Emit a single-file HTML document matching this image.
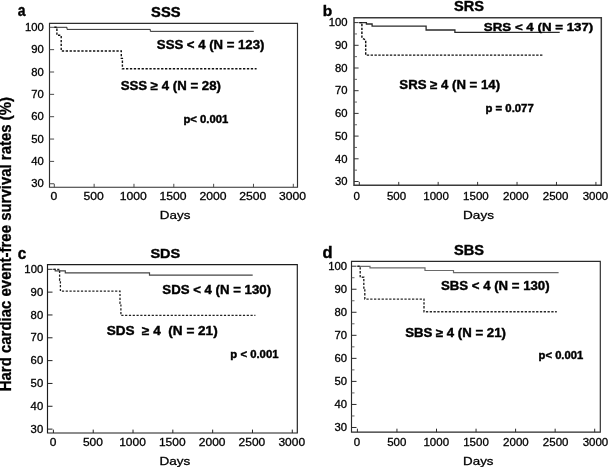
<!DOCTYPE html><html><head><meta charset="utf-8"><style>html,body{margin:0;padding:0;background:#fff;}svg{display:block;will-change:transform;}text{font-family:"Liberation Sans",sans-serif;fill:#000;}</style></head><body>
<svg width="610" height="467" viewBox="0 0 610 467">
<rect width="610" height="467" fill="#fff"/>
<path d="M49.5,23.3H297.5V187.2H49.5Z" fill="none" stroke="#2e2e2e" stroke-width="1.15"/>
<path d="M49.5,183.75h4.6" fill="none" stroke="#4a4a4a" stroke-width="1.0"/>
<path d="M49.5,161.40h4.6" fill="none" stroke="#4a4a4a" stroke-width="1.0"/>
<path d="M49.5,139.05h4.6" fill="none" stroke="#4a4a4a" stroke-width="1.0"/>
<path d="M49.5,116.70h4.6" fill="none" stroke="#4a4a4a" stroke-width="1.0"/>
<path d="M49.5,94.35h4.6" fill="none" stroke="#4a4a4a" stroke-width="1.0"/>
<path d="M49.5,72.00h4.6" fill="none" stroke="#4a4a4a" stroke-width="1.0"/>
<path d="M49.5,49.65h4.6" fill="none" stroke="#4a4a4a" stroke-width="1.0"/>
<path d="M49.5,27.30h4.6" fill="none" stroke="#4a4a4a" stroke-width="1.0"/>
<path d="M54.30,187.2v-3.4" fill="none" stroke="#4a4a4a" stroke-width="1.0"/>
<path d="M94.13,187.2v-3.4" fill="none" stroke="#4a4a4a" stroke-width="1.0"/>
<path d="M133.97,187.2v-3.4" fill="none" stroke="#4a4a4a" stroke-width="1.0"/>
<path d="M173.81,187.2v-3.4" fill="none" stroke="#4a4a4a" stroke-width="1.0"/>
<path d="M213.64,187.2v-3.4" fill="none" stroke="#4a4a4a" stroke-width="1.0"/>
<path d="M253.48,187.2v-3.4" fill="none" stroke="#4a4a4a" stroke-width="1.0"/>
<path d="M293.31,187.2v-3.4" fill="none" stroke="#4a4a4a" stroke-width="1.0"/>
<path d="M354.0,17.7H601.3V185.3H354.0Z" fill="none" stroke="#3a3a3a" stroke-width="1.5"/>
<path d="M354.0,181.50h4.6" fill="none" stroke="#333" stroke-width="1.0"/>
<path d="M354.0,158.80h4.6" fill="none" stroke="#333" stroke-width="1.0"/>
<path d="M354.0,136.10h4.6" fill="none" stroke="#333" stroke-width="1.0"/>
<path d="M354.0,113.40h4.6" fill="none" stroke="#333" stroke-width="1.0"/>
<path d="M354.0,90.70h4.6" fill="none" stroke="#333" stroke-width="1.0"/>
<path d="M354.0,68.00h4.6" fill="none" stroke="#333" stroke-width="1.0"/>
<path d="M354.0,45.30h4.6" fill="none" stroke="#333" stroke-width="1.0"/>
<path d="M354.0,22.60h4.6" fill="none" stroke="#333" stroke-width="1.0"/>
<path d="M354.0,170.15h3" fill="none" stroke="#555" stroke-width="0.9"/>
<path d="M354.0,147.45h3" fill="none" stroke="#555" stroke-width="0.9"/>
<path d="M354.0,124.75h3" fill="none" stroke="#555" stroke-width="0.9"/>
<path d="M354.0,102.05h3" fill="none" stroke="#555" stroke-width="0.9"/>
<path d="M354.0,79.35h3" fill="none" stroke="#555" stroke-width="0.9"/>
<path d="M354.0,56.65h3" fill="none" stroke="#555" stroke-width="0.9"/>
<path d="M354.0,33.95h3" fill="none" stroke="#555" stroke-width="0.9"/>
<path d="M359.30,185.3v-3.4" fill="none" stroke="#333" stroke-width="1.0"/>
<path d="M398.74,185.3v-3.4" fill="none" stroke="#333" stroke-width="1.0"/>
<path d="M438.17,185.3v-3.4" fill="none" stroke="#333" stroke-width="1.0"/>
<path d="M477.61,185.3v-3.4" fill="none" stroke="#333" stroke-width="1.0"/>
<path d="M517.04,185.3v-3.4" fill="none" stroke="#333" stroke-width="1.0"/>
<path d="M556.48,185.3v-3.4" fill="none" stroke="#333" stroke-width="1.0"/>
<path d="M595.91,185.3v-3.4" fill="none" stroke="#333" stroke-width="1.0"/>
<path d="M47.5,264.6H297.3V433.0H47.5Z" fill="none" stroke="#1c1c1c" stroke-width="1.15"/>
<path d="M47.5,429.11h5.0" fill="none" stroke="#222" stroke-width="1.0"/>
<path d="M47.5,406.28h5.0" fill="none" stroke="#222" stroke-width="1.0"/>
<path d="M47.5,383.45h5.0" fill="none" stroke="#222" stroke-width="1.0"/>
<path d="M47.5,360.62h5.0" fill="none" stroke="#222" stroke-width="1.0"/>
<path d="M47.5,337.79h5.0" fill="none" stroke="#222" stroke-width="1.0"/>
<path d="M47.5,314.96h5.0" fill="none" stroke="#222" stroke-width="1.0"/>
<path d="M47.5,292.13h5.0" fill="none" stroke="#222" stroke-width="1.0"/>
<path d="M47.5,269.30h5.0" fill="none" stroke="#222" stroke-width="1.0"/>
<path d="M53.40,433.0v-3.4" fill="none" stroke="#222" stroke-width="1.0"/>
<path d="M93.22,433.0v-3.4" fill="none" stroke="#222" stroke-width="1.0"/>
<path d="M133.03,433.0v-3.4" fill="none" stroke="#222" stroke-width="1.0"/>
<path d="M172.84,433.0v-3.4" fill="none" stroke="#222" stroke-width="1.0"/>
<path d="M212.66,433.0v-3.4" fill="none" stroke="#222" stroke-width="1.0"/>
<path d="M252.48,433.0v-3.4" fill="none" stroke="#222" stroke-width="1.0"/>
<path d="M292.29,433.0v-3.4" fill="none" stroke="#222" stroke-width="1.0"/>
<path d="M351.5,261.4H600.3V432.1H351.5Z" fill="none" stroke="#2a2a2a" stroke-width="1.15"/>
<path d="M351.5,427.48h5.0" fill="none" stroke="#2a2a2a" stroke-width="1.0"/>
<path d="M351.5,404.44h5.0" fill="none" stroke="#2a2a2a" stroke-width="1.0"/>
<path d="M351.5,381.40h5.0" fill="none" stroke="#2a2a2a" stroke-width="1.0"/>
<path d="M351.5,358.36h5.0" fill="none" stroke="#2a2a2a" stroke-width="1.0"/>
<path d="M351.5,335.32h5.0" fill="none" stroke="#2a2a2a" stroke-width="1.0"/>
<path d="M351.5,312.28h5.0" fill="none" stroke="#2a2a2a" stroke-width="1.0"/>
<path d="M351.5,289.24h5.0" fill="none" stroke="#2a2a2a" stroke-width="1.0"/>
<path d="M351.5,266.20h5.0" fill="none" stroke="#2a2a2a" stroke-width="1.0"/>
<path d="M351.5,415.96h3" fill="none" stroke="#555" stroke-width="0.9"/>
<path d="M351.5,392.92h3" fill="none" stroke="#555" stroke-width="0.9"/>
<path d="M351.5,369.88h3" fill="none" stroke="#555" stroke-width="0.9"/>
<path d="M351.5,346.84h3" fill="none" stroke="#555" stroke-width="0.9"/>
<path d="M351.5,323.80h3" fill="none" stroke="#555" stroke-width="0.9"/>
<path d="M351.5,300.76h3" fill="none" stroke="#555" stroke-width="0.9"/>
<path d="M351.5,277.72h3" fill="none" stroke="#555" stroke-width="0.9"/>
<path d="M357.40,432.1v-3.4" fill="none" stroke="#2a2a2a" stroke-width="1.0"/>
<path d="M396.95,432.1v-3.4" fill="none" stroke="#2a2a2a" stroke-width="1.0"/>
<path d="M436.50,432.1v-3.4" fill="none" stroke="#2a2a2a" stroke-width="1.0"/>
<path d="M476.05,432.1v-3.4" fill="none" stroke="#2a2a2a" stroke-width="1.0"/>
<path d="M515.60,432.1v-3.4" fill="none" stroke="#2a2a2a" stroke-width="1.0"/>
<path d="M555.15,432.1v-3.4" fill="none" stroke="#2a2a2a" stroke-width="1.0"/>
<path d="M594.70,432.1v-3.4" fill="none" stroke="#2a2a2a" stroke-width="1.0"/>
<path d="M54.3,27.3H67V29.4H150.3V31.35H253.8" fill="none" stroke="#2e2e2e" stroke-width="1.0"/>
<path d="M54.3,27.3H56.9V35.3H61.2V51H121.3V58.4H122.4V68.7H256.6" fill="none" stroke="#111" stroke-width="1.4" stroke-dasharray="2.3 1.6"/>
<path d="M359.3,22.6H366.4V24H372.1V26.1H426.1V30H454.9V32.3H559.7" fill="none" stroke="#2a2a2a" stroke-width="1.3"/>
<path d="M359.3,22.6H361.9V38.1L365.7,40V55.1H543.6" fill="none" stroke="#111" stroke-width="1.45" stroke-dasharray="2.4 1.45"/>
<path d="M53.4,269.3H55.2V270.8H65.3V272.9H149.5V275.1H252.7" fill="none" stroke="#454545" stroke-width="1.2"/>
<path d="M53.4,269.3H59.6V280.4H60.4V291.2H120V303.4H120.9V315.4H255.4" fill="none" stroke="#222" stroke-width="1.3" stroke-dasharray="2.2 1.6"/>
<path d="M357.4,266.3H370V267.9H425V270.5H453.5V272.7H558.6" fill="none" stroke="#6a6a6a" stroke-width="1.2"/>
<path d="M357.4,266.3H360.2V277.2H363.8V288H364.8V299.1H424V311.8H556.8" fill="none" stroke="#2a2a2a" stroke-width="1.4" stroke-dasharray="2.3 1.5"/>
<text transform="translate(31.22,187.45) scale(1.1200,1)" font-size="10.07" stroke="#000" stroke-width="0.28" xml:space="preserve">30</text>
<text transform="translate(31.22,165.10) scale(1.1200,1)" font-size="10.07" stroke="#000" stroke-width="0.28" xml:space="preserve">40</text>
<text transform="translate(31.22,142.75) scale(1.1200,1)" font-size="10.07" stroke="#000" stroke-width="0.28" xml:space="preserve">50</text>
<text transform="translate(31.22,120.40) scale(1.1200,1)" font-size="10.07" stroke="#000" stroke-width="0.28" xml:space="preserve">60</text>
<text transform="translate(31.22,98.05) scale(1.1200,1)" font-size="10.07" stroke="#000" stroke-width="0.28" xml:space="preserve">70</text>
<text transform="translate(31.22,75.70) scale(1.1200,1)" font-size="10.07" stroke="#000" stroke-width="0.28" xml:space="preserve">80</text>
<text transform="translate(31.22,53.35) scale(1.1200,1)" font-size="10.07" stroke="#000" stroke-width="0.28" xml:space="preserve">90</text>
<text transform="translate(24.96,31.00) scale(1.1200,1)" font-size="10.07" stroke="#000" stroke-width="0.28" xml:space="preserve">100</text>
<text transform="translate(50.60,200.03) scale(1.1200,1)" font-size="10.86" stroke="#000" stroke-width="0.28" xml:space="preserve">0</text>
<text transform="translate(83.60,200.03) scale(1.1200,1)" font-size="10.86" stroke="#000" stroke-width="0.28" xml:space="preserve">500</text>
<text transform="translate(119.73,200.03) scale(1.1200,1)" font-size="10.86" stroke="#000" stroke-width="0.28" xml:space="preserve">1000</text>
<text transform="translate(159.48,200.03) scale(1.1200,1)" font-size="10.86" stroke="#000" stroke-width="0.28" xml:space="preserve">1500</text>
<text transform="translate(199.38,200.03) scale(1.1200,1)" font-size="10.86" stroke="#000" stroke-width="0.28" xml:space="preserve">2000</text>
<text transform="translate(239.13,200.03) scale(1.1200,1)" font-size="10.86" stroke="#000" stroke-width="0.28" xml:space="preserve">2500</text>
<text transform="translate(278.94,200.03) scale(1.1200,1)" font-size="10.86" stroke="#000" stroke-width="0.28" xml:space="preserve">3000</text>
<text transform="translate(334.92,185.20) scale(1.1200,1)" font-size="10.07" stroke="#000" stroke-width="0.28" xml:space="preserve">30</text>
<text transform="translate(334.92,162.50) scale(1.1200,1)" font-size="10.07" stroke="#000" stroke-width="0.28" xml:space="preserve">40</text>
<text transform="translate(334.92,139.80) scale(1.1200,1)" font-size="10.07" stroke="#000" stroke-width="0.28" xml:space="preserve">50</text>
<text transform="translate(334.92,117.10) scale(1.1200,1)" font-size="10.07" stroke="#000" stroke-width="0.28" xml:space="preserve">60</text>
<text transform="translate(334.92,94.40) scale(1.1200,1)" font-size="10.07" stroke="#000" stroke-width="0.28" xml:space="preserve">70</text>
<text transform="translate(334.92,71.70) scale(1.1200,1)" font-size="10.07" stroke="#000" stroke-width="0.28" xml:space="preserve">80</text>
<text transform="translate(334.92,49.00) scale(1.1200,1)" font-size="10.07" stroke="#000" stroke-width="0.28" xml:space="preserve">90</text>
<text transform="translate(328.66,26.30) scale(1.1200,1)" font-size="10.07" stroke="#000" stroke-width="0.28" xml:space="preserve">100</text>
<text transform="translate(353.57,200.22) scale(1.1200,1)" font-size="10.29" stroke="#000" stroke-width="0.28" xml:space="preserve">0</text>
<text transform="translate(386.96,200.22) scale(1.1200,1)" font-size="10.29" stroke="#000" stroke-width="0.28" xml:space="preserve">500</text>
<text transform="translate(423.31,200.22) scale(1.1200,1)" font-size="10.29" stroke="#000" stroke-width="0.28" xml:space="preserve">1000</text>
<text transform="translate(463.09,200.22) scale(1.1200,1)" font-size="10.29" stroke="#000" stroke-width="0.28" xml:space="preserve">1500</text>
<text transform="translate(503.02,200.22) scale(1.1200,1)" font-size="10.29" stroke="#000" stroke-width="0.28" xml:space="preserve">2000</text>
<text transform="translate(542.80,200.22) scale(1.1200,1)" font-size="10.29" stroke="#000" stroke-width="0.28" xml:space="preserve">2500</text>
<text transform="translate(582.64,200.22) scale(1.1200,1)" font-size="10.29" stroke="#000" stroke-width="0.28" xml:space="preserve">3000</text>
<text transform="translate(30.62,432.81) scale(1.1200,1)" font-size="10.07" stroke="#000" stroke-width="0.28" xml:space="preserve">30</text>
<text transform="translate(30.62,409.98) scale(1.1200,1)" font-size="10.07" stroke="#000" stroke-width="0.28" xml:space="preserve">40</text>
<text transform="translate(30.62,387.15) scale(1.1200,1)" font-size="10.07" stroke="#000" stroke-width="0.28" xml:space="preserve">50</text>
<text transform="translate(30.62,364.32) scale(1.1200,1)" font-size="10.07" stroke="#000" stroke-width="0.28" xml:space="preserve">60</text>
<text transform="translate(30.62,341.49) scale(1.1200,1)" font-size="10.07" stroke="#000" stroke-width="0.28" xml:space="preserve">70</text>
<text transform="translate(30.62,318.66) scale(1.1200,1)" font-size="10.07" stroke="#000" stroke-width="0.28" xml:space="preserve">80</text>
<text transform="translate(30.62,295.83) scale(1.1200,1)" font-size="10.07" stroke="#000" stroke-width="0.28" xml:space="preserve">90</text>
<text transform="translate(24.36,273.00) scale(1.1200,1)" font-size="10.07" stroke="#000" stroke-width="0.28" xml:space="preserve">100</text>
<text transform="translate(49.84,446.23) scale(1.1200,1)" font-size="10.71" stroke="#000" stroke-width="0.28" xml:space="preserve">0</text>
<text transform="translate(82.95,446.23) scale(1.1200,1)" font-size="10.71" stroke="#000" stroke-width="0.28" xml:space="preserve">500</text>
<text transform="translate(119.15,446.23) scale(1.1200,1)" font-size="10.71" stroke="#000" stroke-width="0.28" xml:space="preserve">1000</text>
<text transform="translate(158.92,446.23) scale(1.1200,1)" font-size="10.71" stroke="#000" stroke-width="0.28" xml:space="preserve">1500</text>
<text transform="translate(198.84,446.23) scale(1.1200,1)" font-size="10.71" stroke="#000" stroke-width="0.28" xml:space="preserve">2000</text>
<text transform="translate(238.61,446.23) scale(1.1200,1)" font-size="10.71" stroke="#000" stroke-width="0.28" xml:space="preserve">2500</text>
<text transform="translate(278.44,446.23) scale(1.1200,1)" font-size="10.71" stroke="#000" stroke-width="0.28" xml:space="preserve">3000</text>
<text transform="translate(334.52,431.18) scale(1.1200,1)" font-size="10.07" stroke="#000" stroke-width="0.28" xml:space="preserve">30</text>
<text transform="translate(334.52,408.14) scale(1.1200,1)" font-size="10.07" stroke="#000" stroke-width="0.28" xml:space="preserve">40</text>
<text transform="translate(334.52,385.10) scale(1.1200,1)" font-size="10.07" stroke="#000" stroke-width="0.28" xml:space="preserve">50</text>
<text transform="translate(334.52,362.06) scale(1.1200,1)" font-size="10.07" stroke="#000" stroke-width="0.28" xml:space="preserve">60</text>
<text transform="translate(334.52,339.02) scale(1.1200,1)" font-size="10.07" stroke="#000" stroke-width="0.28" xml:space="preserve">70</text>
<text transform="translate(334.52,315.98) scale(1.1200,1)" font-size="10.07" stroke="#000" stroke-width="0.28" xml:space="preserve">80</text>
<text transform="translate(334.52,292.94) scale(1.1200,1)" font-size="10.07" stroke="#000" stroke-width="0.28" xml:space="preserve">90</text>
<text transform="translate(328.26,269.90) scale(1.1200,1)" font-size="10.07" stroke="#000" stroke-width="0.28" xml:space="preserve">100</text>
<text transform="translate(353.77,445.93) scale(1.1200,1)" font-size="10.29" stroke="#000" stroke-width="0.28" xml:space="preserve">0</text>
<text transform="translate(387.13,445.93) scale(1.1200,1)" font-size="10.29" stroke="#000" stroke-width="0.28" xml:space="preserve">500</text>
<text transform="translate(423.45,445.93) scale(1.1200,1)" font-size="10.29" stroke="#000" stroke-width="0.28" xml:space="preserve">1000</text>
<text transform="translate(463.20,445.93) scale(1.1200,1)" font-size="10.29" stroke="#000" stroke-width="0.28" xml:space="preserve">1500</text>
<text transform="translate(503.10,445.93) scale(1.1200,1)" font-size="10.29" stroke="#000" stroke-width="0.28" xml:space="preserve">2000</text>
<text transform="translate(542.85,445.93) scale(1.1200,1)" font-size="10.29" stroke="#000" stroke-width="0.28" xml:space="preserve">2500</text>
<text transform="translate(582.66,445.93) scale(1.1200,1)" font-size="10.29" stroke="#000" stroke-width="0.28" xml:space="preserve">3000</text>
<text transform="translate(17.83,15.80) scale(0.8545,1)" font-size="16.30" font-weight="bold" stroke="#000" stroke-width="0.4" xml:space="preserve">a</text>
<text transform="translate(322.65,15.70) scale(1.0043,1)" font-size="15.38" font-weight="bold" stroke="#000" stroke-width="0.4" xml:space="preserve">b</text>
<text transform="translate(17.64,258.60) scale(0.9636,1)" font-size="15.83" font-weight="bold" stroke="#000" stroke-width="0.4" xml:space="preserve">c</text>
<text transform="translate(322.49,258.40) scale(1.0407,1)" font-size="15.79" font-weight="bold" stroke="#000" stroke-width="0.4" xml:space="preserve">d</text>
<text transform="translate(151.11,16.80) scale(1.0158,1)" font-size="14.50" font-weight="bold" stroke="#000" stroke-width="0.4" xml:space="preserve">SSS</text>
<text transform="translate(454.01,11.40) scale(1.0392,1)" font-size="14.07" font-weight="bold" stroke="#000" stroke-width="0.4" xml:space="preserve">SRS</text>
<text transform="translate(150.42,258.20) scale(1.0608,1)" font-size="13.64" font-weight="bold" stroke="#000" stroke-width="0.4" xml:space="preserve">SDS</text>
<text transform="translate(454.01,254.60) scale(1.0392,1)" font-size="14.07" font-weight="bold" stroke="#000" stroke-width="0.4" xml:space="preserve">SBS</text>
<text transform="translate(156.86,48.70) scale(1.0290,1)" font-size="12.79" font-weight="bold" stroke="#000" stroke-width="0.4" xml:space="preserve">SSS &lt; 4 (N = 123)</text>
<text transform="translate(120.75,89.70) scale(1.0571,1)" font-size="12.50" font-weight="bold" stroke="#000" stroke-width="0.4" xml:space="preserve">SSS ≥ 4 (N = 28)</text>
<text transform="translate(183.42,123.00) scale(1.0762,1)" font-size="10.50" font-weight="bold" stroke="#000" stroke-width="0.4" xml:space="preserve">p&lt; 0.001</text>
<text transform="translate(483.85,31.10) scale(1.1296,1)" font-size="11.79" font-weight="bold" stroke="#000" stroke-width="0.4" xml:space="preserve">SRS &lt; 4 (N = 137)</text>
<text transform="translate(399.35,88.70) scale(1.0557,1)" font-size="12.50" font-weight="bold" stroke="#000" stroke-width="0.4" xml:space="preserve">SRS ≥ 4 (N = 14)</text>
<text transform="translate(485.51,112.00) scale(1.0948,1)" font-size="10.36" font-weight="bold" stroke="#000" stroke-width="0.4" xml:space="preserve">p = 0.077</text>
<text transform="translate(162.35,293.50) scale(1.0572,1)" font-size="12.50" font-weight="bold" stroke="#000" stroke-width="0.4" xml:space="preserve">SDS &lt; 4 (N = 130)</text>
<text transform="translate(106.64,334.60) scale(1.0854,1)" font-size="12.50" font-weight="bold" stroke="#000" stroke-width="0.4" xml:space="preserve">SDS  ≥ 4  (N = 21)</text>
<text transform="translate(230.36,357.70) scale(1.0794,1)" font-size="10.50" font-weight="bold" stroke="#000" stroke-width="0.4" xml:space="preserve">p &lt; 0.001</text>
<text transform="translate(441.05,289.90) scale(1.0562,1)" font-size="12.50" font-weight="bold" stroke="#000" stroke-width="0.4" xml:space="preserve">SBS &lt; 4 (N = 130)</text>
<text transform="translate(405.15,337.30) scale(1.1063,1)" font-size="11.93" font-weight="bold" stroke="#000" stroke-width="0.4" xml:space="preserve">SBS ≥ 4 (N = 21)</text>
<text transform="translate(538.62,359.00) scale(1.0688,1)" font-size="10.50" font-weight="bold" stroke="#000" stroke-width="0.4" xml:space="preserve">p&lt; 0.001</text>
<text transform="translate(159.77,219.00) scale(1.1967,1)" font-size="11.23" stroke="#000" stroke-width="0.28" xml:space="preserve">Days</text>
<text transform="translate(463.06,219.30) scale(1.2248,1)" font-size="11.09" stroke="#000" stroke-width="0.28" xml:space="preserve">Days</text>
<text transform="translate(159.47,464.60) scale(1.2880,1)" font-size="10.51" stroke="#000" stroke-width="0.28" xml:space="preserve">Days</text>
<text transform="translate(463.08,464.60) scale(1.2704,1)" font-size="10.51" stroke="#000" stroke-width="0.28" xml:space="preserve">Days</text>
<text transform="translate(11.4,391.27) rotate(-90) scale(0.9477,1)" font-size="15.80" font-weight="bold" stroke="#000" stroke-width="0.3">Hard cardiac event-free survival rates (%)</text>
</svg></body></html>
